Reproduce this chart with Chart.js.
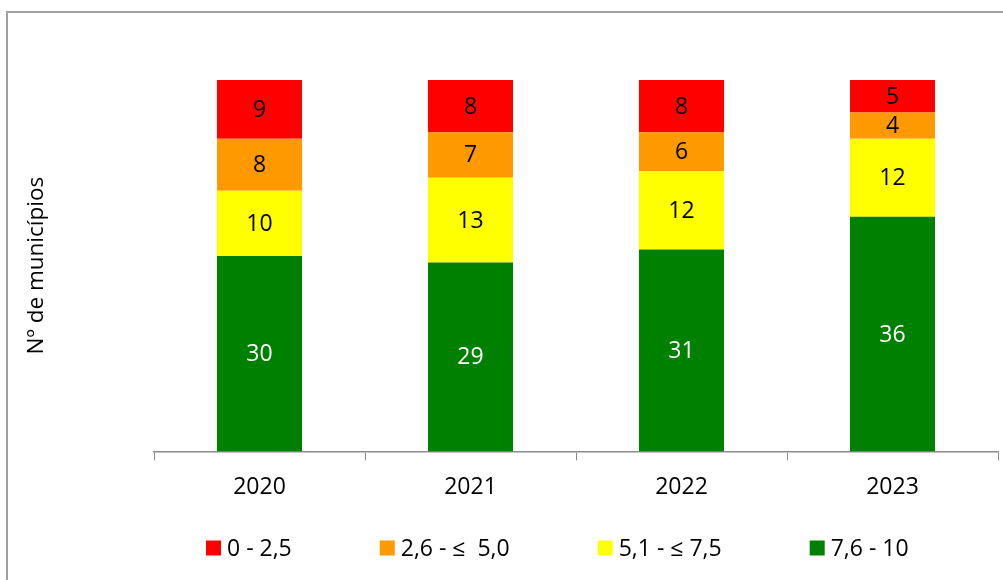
<!DOCTYPE html>
<html>
<head>
<meta charset="utf-8">
<script src="https://cdn.jsdelivr.net/npm/chart.js@4.4.0/dist/chart.umd.min.js"></script>
<style>
  html, body { margin: 0; padding: 0; background: #fff; overflow: hidden; }
  .wrap { position: relative; width: 1003px; height: 580px; }
  .frame { position: absolute; left: 6px; top: 11px; width: 1100px; height: 700px; border: 2px solid #a0a0a0; }
  canvas { position: absolute; left: 0; top: 0; }
</style>
</head>
<body>
<div class="wrap">
  <div class="frame"></div>
  <canvas id="chart" width="1003" height="580"></canvas>
</div>
<script>
const years = ['2020', '2021', '2022', '2023'];
const classLabels = ['7,6 - 10', '5,1 - ≤ 7,5', '2,6 - ≤  5,0', '0 - 2,5'];
const green = [30, 29, 31, 36];
const yellow = [10, 13, 12, 12];
const orange = [8, 7, 6, 4];
const red = [9, 8, 8, 5];
const yMax = 57;
const yTitle = 'Nº de municípios';

const colors = ['#008000', '#FFFF00', '#FF9900', '#FF0000'];
const series = [green, yellow, orange, red];
const FONT = "'Open Sans', 'Liberation Sans', sans-serif";

// value labels in the middle of every segment
const segmentLabels = {
  id: 'segmentLabels',
  afterDatasetsDraw(chart) {
    const ctx = chart.ctx;
    ctx.save();
    ctx.font = '23px ' + FONT;
    ctx.textAlign = 'center';
    ctx.textBaseline = 'middle';
    chart.data.datasets.forEach((ds, i) => {
      const meta = chart.getDatasetMeta(i);
      meta.data.forEach((bar, j) => {
        ctx.fillStyle = i === 0 ? '#ffffff' : '#000000';
        ctx.fillText(String(ds.data[j]), bar.x, (bar.y + bar.base) / 2 + 1);
      });
    });
    ctx.restore();
  }
};

// legend drawn in a row under the axis, top class first
const rowLegend = {
  id: 'rowLegend',
  afterDraw(chart) {
    const ctx = chart.ctx;
    const y = 548;
    const box = 15;
    let x = 206;
    ctx.save();
    ctx.font = '23px ' + FONT;
    ctx.textBaseline = 'middle';
    ctx.textAlign = 'left';
    const items = chart.data.datasets.slice().reverse();
    items.forEach(ds => {
      ctx.fillStyle = ds.backgroundColor;
      ctx.fillRect(x, y - box / 2, box, box);
      ctx.fillStyle = '#000';
      ctx.fillText(ds.label, x + box + 6, y + 1);
      x += box + 6 + ctx.measureText(ds.label).width + 88;
    });
    ctx.restore();
  }
};

new Chart(document.getElementById('chart').getContext('2d'), {
  type: 'bar',
  data: {
    labels: years,
    datasets: series.map((vals, i) => ({
      label: classLabels[i],
      data: vals,
      backgroundColor: colors[i],
      borderWidth: 0,
      barPercentage: 0.403,
      categoryPercentage: 1
    }))
  },
  options: {
    responsive: false,
    animation: false,
    devicePixelRatio: 1,
    layout: { padding: { top: 80, right: 5, left: 0, bottom: 66 } },
    plugins: {
      legend: { display: false },
      tooltip: { enabled: false }
    },
    scales: {
      x: {
        stacked: true,
        grid: { display: true, drawOnChartArea: false, drawTicks: true, tickLength: 9, color: '#8c8c8c', offset: true },
        border: { display: true, color: '#8c8c8c', width: 1.5 },
        ticks: { color: '#000', font: { family: FONT, size: 23 }, padding: 13 }
      },
      y: {
        stacked: true,
        min: 0,
        max: yMax,
        grid: { display: false },
        border: { display: false },
        ticks: { display: false },
        title: {
          display: true,
          text: yTitle,
          color: '#000',
          font: { family: FONT, size: 22.5 },
          padding: { top: 23, bottom: 96 }
        }
      }
    }
  },
  plugins: [segmentLabels, rowLegend]
});
</script>
</body>
</html>
